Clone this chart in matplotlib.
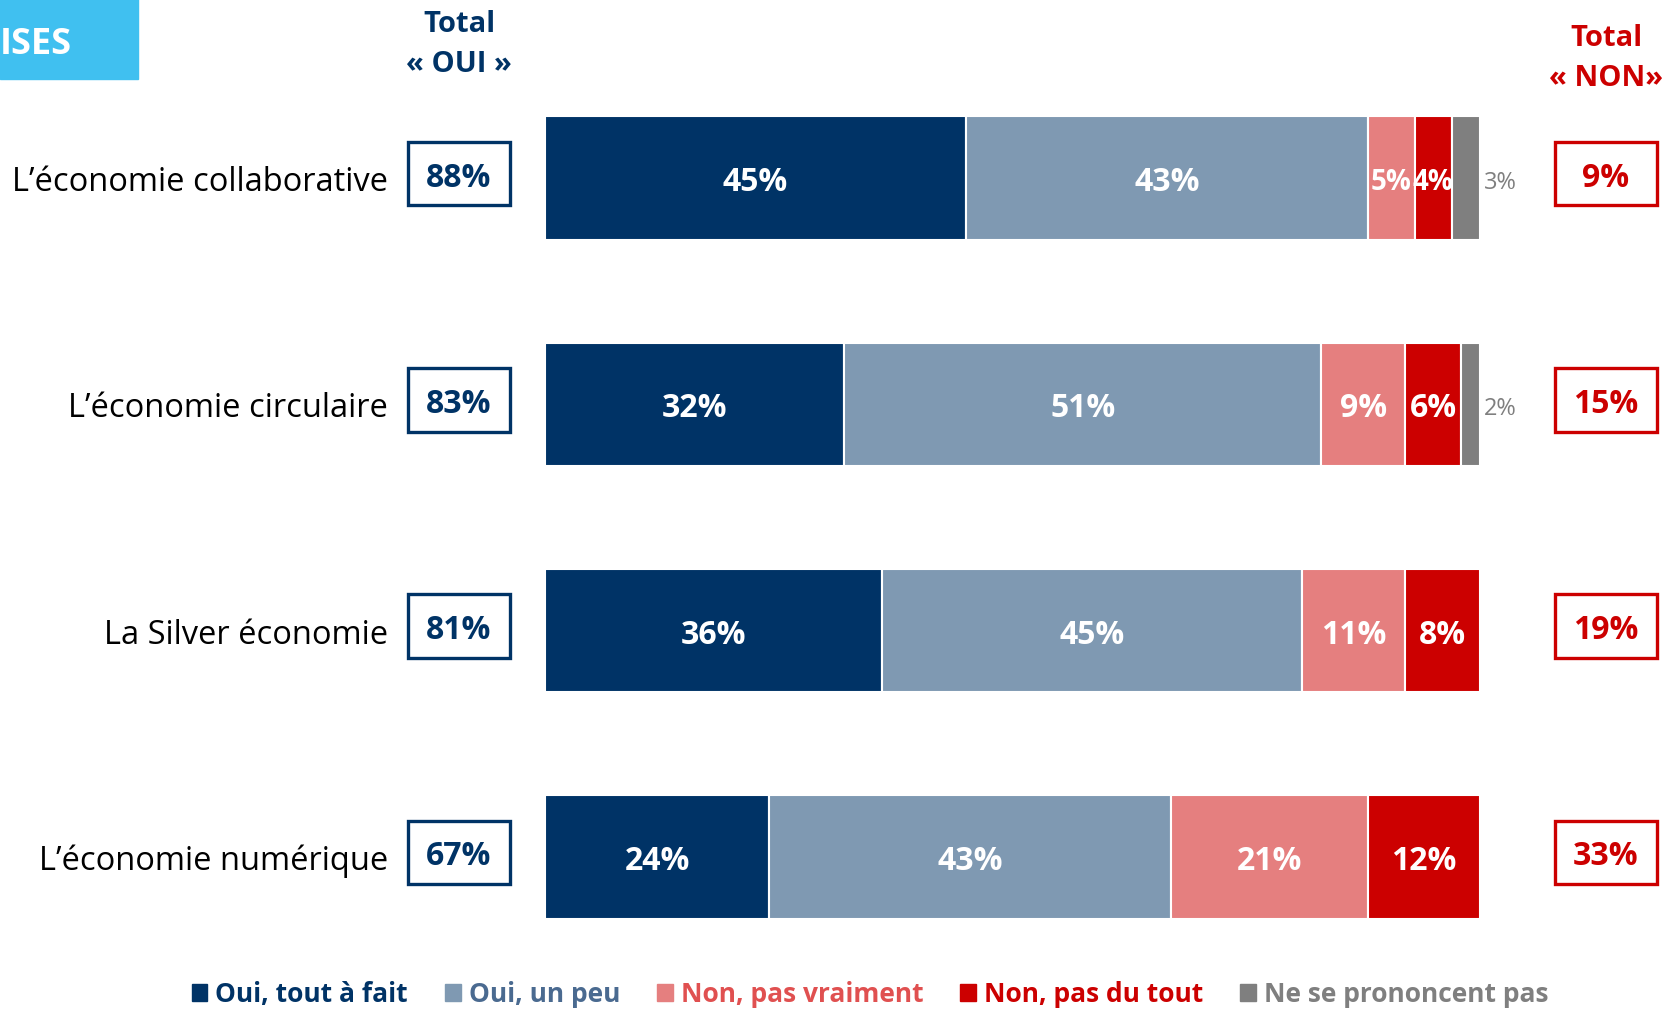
import matplotlib.pyplot as plt
from matplotlib.patches import Rectangle, Patch

# data
categories = ["L\u2019économie collaborative", "L\u2019économie circulaire",
              "La Silver économie", "L\u2019économie numérique"]
series = ["Oui, tout à fait", "Oui, un peu", "Non, pas vraiment",
          "Non, pas du tout", "Ne se prononcent pas"]
oui_tout = [45, 32, 36, 24]
oui_peu = [43, 51, 45, 43]
non_vraiment = [5, 9, 11, 21]
non_tout = [4, 6, 8, 12]
nsp = [3, 2, 0, 0]
total_oui = [88, 83, 81, 67]
total_non = [9, 15, 19, 33]

colors = ["#003366", "#7f99b2", "#e57f7f", "#cc0000", "#7f7f7f"]
legend_colors = ["#003366", "#4a6a90", "#e05050", "#cc0000", "#7f7f7f"]
navy = "#003366"
red = "#cc0000"

plt.rcParams['font.family'] = ['Open Sans', 'DejaVu Sans']

W, H = 1681, 1012
fig = plt.figure(figsize=(W / 100, H / 100), dpi=100)
x0, x1 = 545, 1480
top, bot = 66, 971
ax = fig.add_axes([x0 / W, 1 - bot / H, (x1 - x0) / W, (bot - top) / H])
ax.set_xlim(0, 100)
ax.set_ylim(3.5, -0.5)
ax.axis("off")

dy = 0.016  # nudge text down a little

rows = [oui_tout, oui_peu, non_vraiment, non_tout, nsp]
left = [0] * len(categories)
for k, vals in enumerate(rows):
    for i, v in enumerate(vals):
        if v == 0:
            continue
        ax.barh(i, v, left=left[i], height=0.545, color=colors[k],
                edgecolor="white", linewidth=1.5)
        cx = left[i] + v / 2
        if k == 4:
            ax.text(left[i] + v + 0.4, i + dy, f"{v}%", ha="left", va="center",
                    fontsize=17, color="#7f7f7f")
        else:
            fs = 23 if v > 5 else 20
            ax.text(cx, i + dy, f"{v}%", ha="center", va="center", fontsize=fs,
                    color="white", fontweight="bold")
        left[i] += v

px = 100 / (x1 - x0)  # data units per pixel
for i, cat in enumerate(categories):
    ax.text((388 - x0) * px, i + dy, cat, ha="right", va="center", fontsize=23.5,
            color="black", clip_on=False)
    bw, bh = 102 * px, 0.28
    cxo = (459 - x0) * px
    ax.add_patch(Rectangle((cxo - bw / 2, i - bh / 2 - 0.02), bw, bh, fill=False,
                           edgecolor=navy, linewidth=2.4, clip_on=False))
    ax.text(cxo, i - 0.02 + dy, f"{total_oui[i]}%", ha="center", va="center",
            fontsize=23, color=navy, fontweight="bold", clip_on=False)
    cxn = (1606 - x0) * px
    ax.add_patch(Rectangle((cxn - bw / 2, i - bh / 2 - 0.02), bw, bh, fill=False,
                           edgecolor=red, linewidth=2.4, clip_on=False))
    ax.text(cxn, i - 0.02 + dy, f"{total_non[i]}%", ha="center", va="center",
            fontsize=23, color=red, fontweight="bold", clip_on=False)

# headers
fig.text(459 / W, 1 - 25 / H, "Total", ha="center", va="center", fontsize=21,
         color=navy, fontweight="bold")
fig.text(459 / W, 1 - 65 / H, "« OUI »", ha="center", va="center", fontsize=21,
         color=navy, fontweight="bold")
fig.text(1606 / W, 1 - 38 / H, "Total", ha="center", va="center", fontsize=21,
         color=red, fontweight="bold")
fig.text(1606 / W, 1 - 79 / H, "« NON»", ha="center", va="center", fontsize=21,
         color=red, fontweight="bold")

# blue tab
fig.patches.append(Rectangle((0, 1 - 80 / H), 138 / W, 80 / H, color="#40c0f0",
                             transform=fig.transFigure, figure=fig))
fig.text(0, 1 - 45 / H, "ISES", ha="left", va="center", fontsize=26,
         color="white", fontweight="bold")

# legend
handles = [Patch(color=c) for c in colors]
leg = fig.legend(handles, series, loc="center", bbox_to_anchor=(870 / W, 1 - 995 / H),
                 ncol=5, frameon=False, handlelength=0.6, handleheight=0.6,
                 handletextpad=0.3, columnspacing=1.4,
                 prop={"weight": "bold", "size": 19})
for t, c in zip(leg.get_texts(), legend_colors):
    t.set_color(c)

fig.savefig("out.png", dpi=100)
